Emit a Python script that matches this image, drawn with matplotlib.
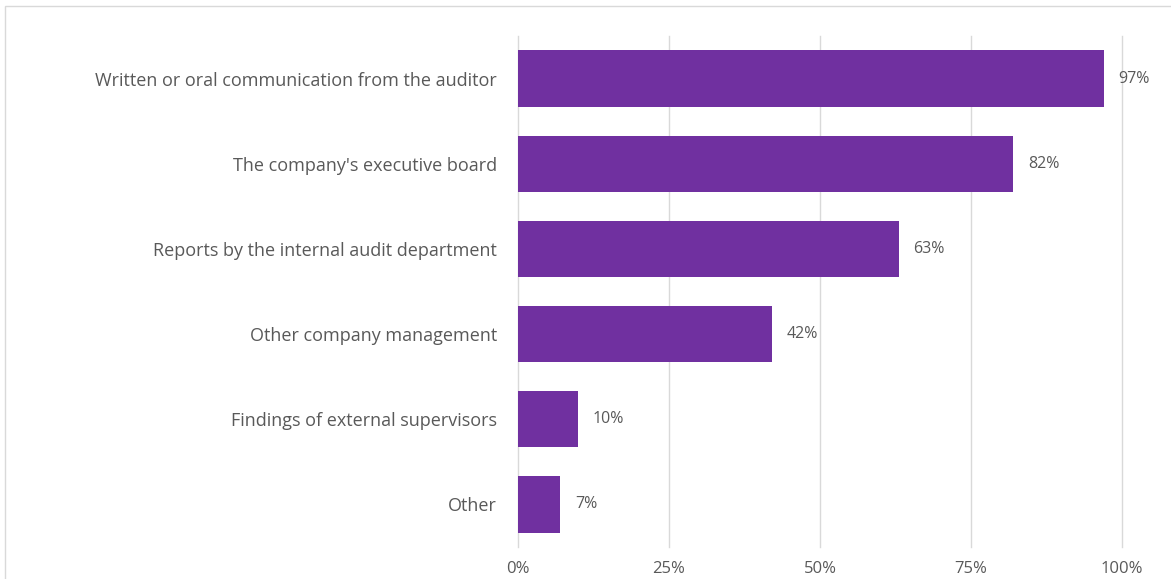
import matplotlib
matplotlib.use("Agg")
import matplotlib.pyplot as plt
from matplotlib.patches import Rectangle

plt.rcParams["font.family"] = ["Open Sans", "DejaVu Sans"]

# ── Data ─────────────────────────────────────────────────────────────────────
categories = [
    "Written or oral communication from the auditor",
    "The company's executive board",
    "Reports by the internal audit department",
    "Other company management",
    "Findings of external supervisors",
    "Other",
]
shares = [97, 82, 63, 42, 10, 7]
xticks = [0, 25, 50, 75, 100]

BAR = "#7030A0"
TEXT = "#595959"
GRID = "#D9D9D9"

W, H = 1171, 579
fig = plt.figure(figsize=(W / 100, H / 100), dpi=100)
ax = fig.add_axes([518 / W, 1 - 547 / H, 604 / W, (547 - 36) / H])

ypos = list(range(len(categories)))
ax.barh(ypos, shares, height=0.66, color=BAR, zorder=3)
ax.set_ylim(len(categories) - 0.5, -0.5)
ax.set_xlim(0, 100)

for y, v in zip(ypos, shares):
    ax.text(v + 2.4, y, f"{v}%", va="center", ha="left", fontsize=11.5, color=TEXT)

ax.set_yticks(ypos)
ax.set_yticklabels(categories, fontsize=13, color=TEXT)
ax.set_xticks(xticks)
ax.set_xticklabels([f"{t}%" for t in xticks], fontsize=12, color=TEXT)
ax.tick_params(axis="both", length=0)
ax.tick_params(axis="y", pad=15)
ax.tick_params(axis="x", pad=10)

ax.grid(axis="x", color=GRID, linewidth=1, zorder=0)
for gl in ax.get_xgridlines():
    gl.set_clip_on(False)
for s in ax.spines.values():
    s.set_visible(False)

# light chart frame
fig.patches.append(Rectangle((5 / W, -0.1), 1.2, 1 - 6 / H + 0.1,
                             transform=fig.transFigure, fill=False,
                             edgecolor="#D9D9D9", linewidth=1))

fig.savefig("out.png", dpi=100, facecolor="white")
